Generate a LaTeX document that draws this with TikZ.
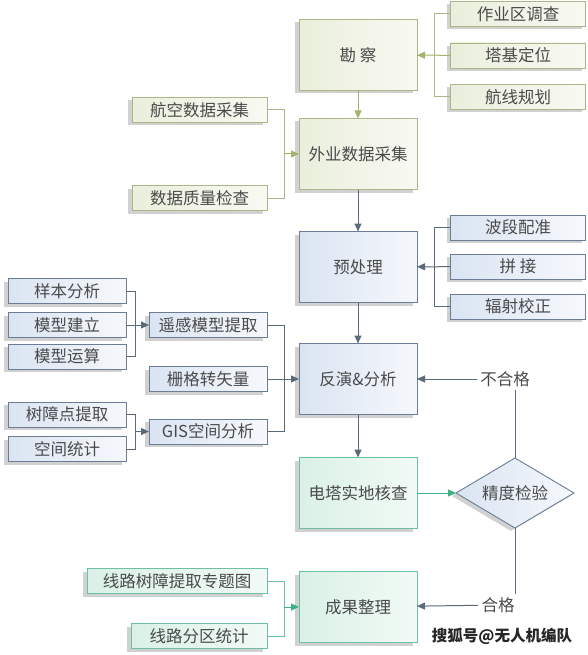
\documentclass[tikz,border=0pt]{standalone}
\usepackage{fontspec}
\setmainfont{Noto Sans CJK SC}
\usetikzlibrary{positioning, shapes.geometric, shadows, arrows.meta}

\definecolor{txt}{HTML}{4A4A4A}
\definecolor{greenline}{HTML}{A9B78A}
\definecolor{greenarrow}{HTML}{A2B36C}
\definecolor{greenfillA}{HTML}{EAEFDC}
\definecolor{greenfillB}{HTML}{F8F9F2}
\definecolor{blueline}{HTML}{6A7D95}
\definecolor{bluearrow}{HTML}{5B6A7B}
\definecolor{bluefillA}{HTML}{DAE4F2}
\definecolor{bluefillB}{HTML}{F6F8FC}
\definecolor{tealline}{HTML}{6CC2A0}
\definecolor{tealarrow}{HTML}{3DB287}
\definecolor{tealfillA}{HTML}{DAF1E7}
\definecolor{tealfillB}{HTML}{F2FAF6}

\begin{document}
\begin{tikzpicture}[x=1pt, y=-1pt, node distance=28pt,
    font=\fontsize{16.5}{17}\selectfont, text=txt,
    >={Triangle[length=8pt, width=7pt]},
    box/.style={line width=0.9pt, inner sep=0pt, outer sep=0pt,
        drop shadow={shadow xshift=-4pt, shadow yshift=-3pt, opacity=0.18, fill=black}},
    mainbox/.style={box, minimum width=118pt, minimum height=71pt, font=\fontsize{16.5}{17}\selectfont},
    sidebox/.style={box, minimum width=135pt, minimum height=25pt},
    leafbox/.style={box, minimum width=118pt, minimum height=25pt},
    greenbox/.style={draw=greenline, left color=greenfillA, right color=greenfillB},
    bluebox/.style={draw=blueline, left color=bluefillA, right color=bluefillB},
    tealbox/.style={draw=tealline, left color=tealfillA, right color=tealfillB},
    gline/.style={draw=greenline, line width=1pt},
    garrow/.style={gline, draw=greenarrow, ->},
    bline/.style={draw=bluearrow, line width=1pt},
    barrow/.style={bline, ->},
    tline/.style={draw=tealline, line width=1pt},
    tarrow/.style={tline, draw=tealarrow, ->}]
    \useasboundingbox (0,0) rectangle (588,655);

    % Main steps
    \node[mainbox, greenbox] (kancha) at (358,55) {勘 察};
    \node[mainbox, greenbox, below=28pt of kancha] (waiye) {外业数据采集};
    \node[mainbox, bluebox, below=42pt of waiye] (yuchuli) {预处理};
    \node[mainbox, bluebox, below=41pt of yuchuli] (fanyan) {反演\&分析};
    \node[mainbox, tealbox, below=43pt of fanyan] (hecha) {电塔实地核查};
    \node[mainbox, tealbox, below=43pt of hecha] (chengguo) {成果整理};
    \node[diamond, box, draw=blueline, left color=bluefillA, right color=bluefillB,
        minimum width=118pt, minimum height=70pt, aspect=1.7, right=39pt of hecha] (jingdu) {精度检验};

    % Nodes for the survey step
    \node[sidebox, greenbox] (zuoye) at (518,14) {作业区调查};
    \node[sidebox, greenbox] (taji) at (518,55.5) {塔基定位};
    \node[sidebox, greenbox] (hangxian) at (518,97) {航线规划};

    % Nodes for the field data step
    \node[sidebox, greenbox] (hangkong) at (199.5,110) {航空数据采集};
    \node[sidebox, greenbox] (zhiliang) at (199.5,198) {数据质量检查};

    % Nodes for the preprocessing step
    \node[sidebox, bluebox] (boduan) at (518,227.5) {波段配准};
    \node[sidebox, bluebox] (pinjie) at (518,266.5) {拼 接};
    \node[sidebox, bluebox] (fushe) at (518,306.5) {辐射校正};

    % Nodes for the analysis step
    \node[leafbox, bluebox] (yangben) at (67,291) {样本分析};
    \node[leafbox, bluebox] (jianli) at (67,325) {模型建立};
    \node[leafbox, bluebox] (yunsuan) at (67,356.5) {模型运算};
    \node[leafbox, bluebox] (shuzhang) at (67,414.5) {树障点提取};
    \node[leafbox, bluebox] (tongji) at (67,449) {空间统计};
    \node[leafbox, bluebox] (yaogan) at (208,325) {遥感模型提取};
    \node[leafbox, bluebox] (shange) at (208,379) {栅格转矢量};
    \node[leafbox, bluebox] (gis) at (208,431.5) {GIS空间分析};

    % Nodes for the results step
    \node[box, tealbox, minimum width=180pt, minimum height=25pt] (zhuanti) at (177,581) {线路树障提取专题图};
    \node[box, tealbox, minimum width=136pt, minimum height=25pt] (fenqu) at (199,636) {线路分区统计};

    % Check labels
    \node (buhege) at (505,379) {不合格};
    \node (hege) at (498,605) {合格};
    \node[font=\fontsize{15.5}{16}\selectfont\bfseries, text=black!85] (sohu) at (502,636) {搜狐号@无人机编队};

    % Arrows along the main steps
    \draw[garrow] (kancha) -- (waiye);
    \draw[barrow] (waiye) -- (yuchuli);
    \draw[barrow] (yuchuli) -- (fanyan);
    \draw[barrow] (fanyan) -- (hecha);
    \draw[tarrow] (hecha) -- (jingdu);
    \draw[bline] (jingdu.north) -- (jingdu.north |- buhege.south);
    \draw[barrow] (buhege) -- (fanyan);
    \draw[bline] (jingdu.south) -- (jingdu.south |- hege.north);
    \draw[barrow] (hege) -- (chengguo);

    % Brackets into the main steps
    \draw[gline] (zuoye.west) -- ++(-16pt,0) |- (hangxian.west);
    \draw[garrow] (taji) -- (kancha);
    \draw[gline] (hangkong.east) -- ++(17pt,0) |- (zhiliang.east);
    \draw[garrow] ([xshift=-15pt]waiye.west) -- (waiye.west);
    \draw[bline] (boduan.west) -- ++(-16pt,0) |- (fushe.west);
    \draw[barrow] (pinjie) -- (yuchuli);
    \draw[bline] (yangben.east) -- ++(9pt,0) |- (yunsuan.east);
    \draw[barrow] (jianli) -- (yaogan);
    \draw[bline] (shuzhang.east) -- ++(9pt,0) |- (tongji.east);
    \draw[barrow] ([xshift=-14pt]gis.west) -- (gis.west);
    \draw[bline] (yaogan.east) -- ++(17pt,0) |- (gis.east);
    \draw[barrow] (shange) -- (fanyan);
    \draw[tline] (zhuanti.east) -- ++(17pt,0) |- (fenqu.east);
    \draw[tarrow] ([xshift=-15pt]chengguo.west) -- (chengguo.west);

\end{tikzpicture}
\end{document}
